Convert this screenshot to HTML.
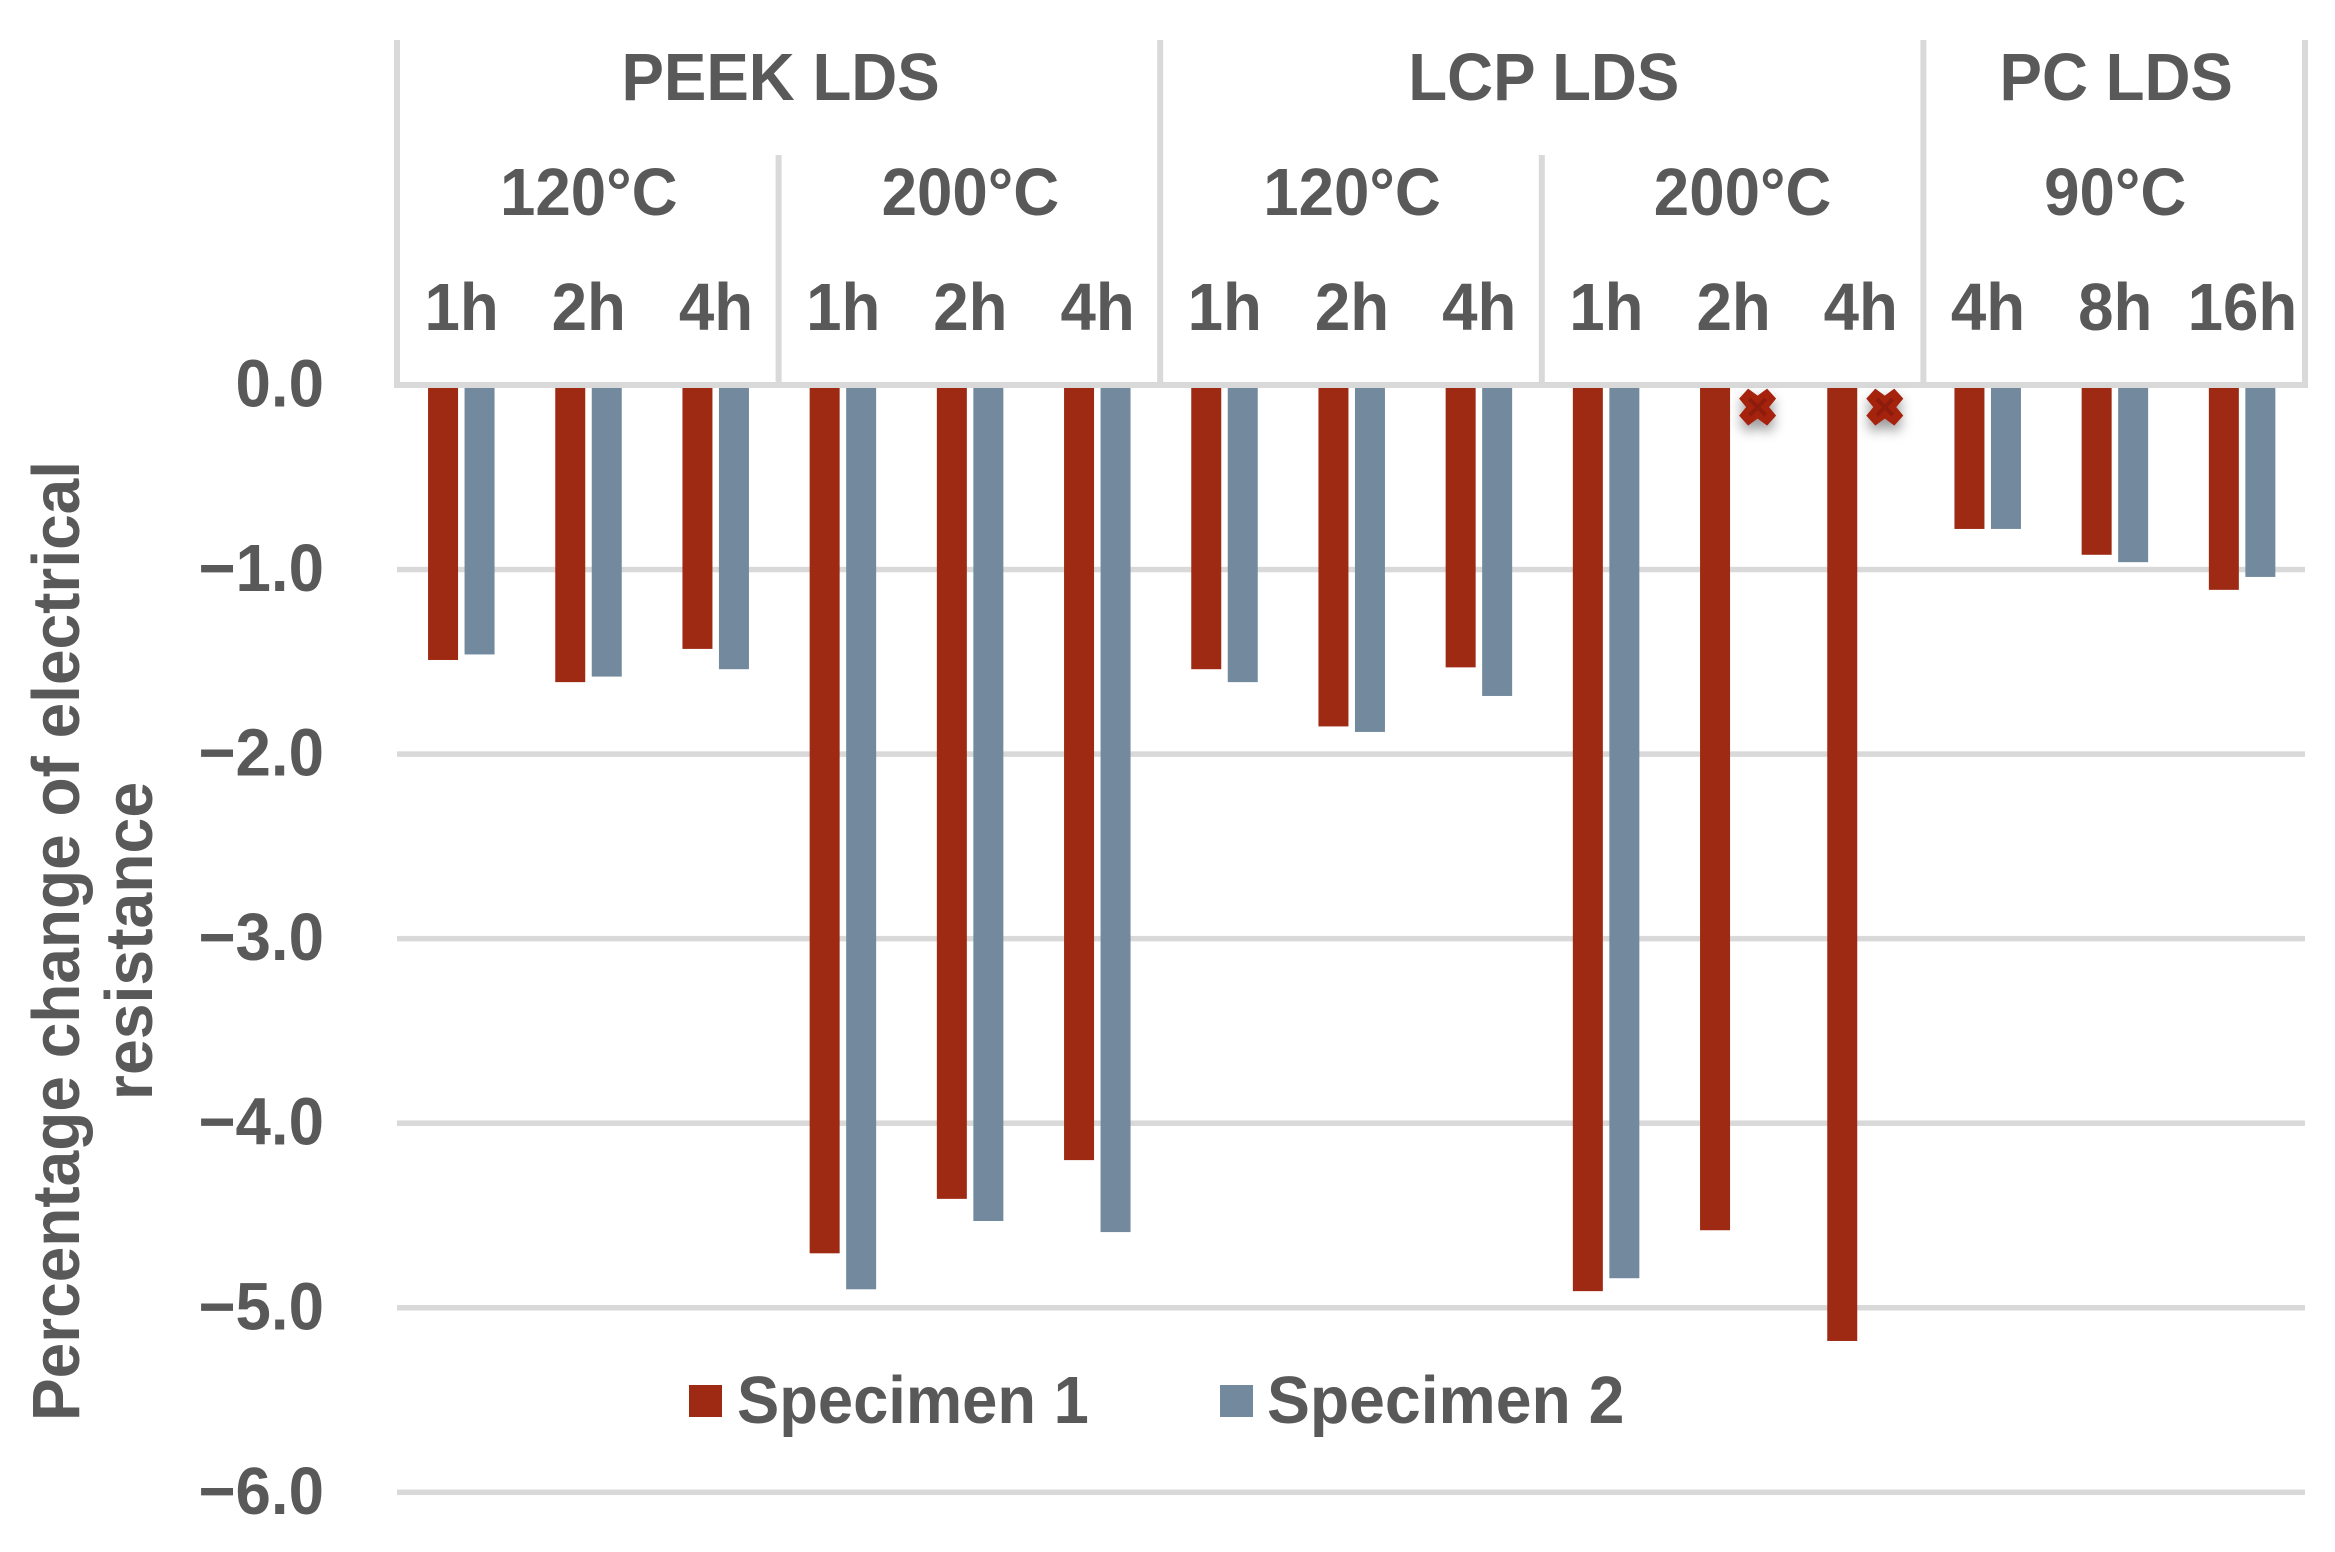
<!DOCTYPE html>
<html lang="en">
<head>
<meta charset="utf-8">
<title>Percentage change of electrical resistance</title>
<style>
html,body{margin:0;padding:0;background:#fff;}
svg{display:block;}
text{font-family:"Liberation Sans",Arial,sans-serif;font-weight:700;fill:#595959;}
</style>
</head>
<body>
<svg id="chart" xmlns="http://www.w3.org/2000/svg" width="2335" height="1552" viewBox="0 0 2335 1552">
  <defs>
    <filter id="marker-shadow" x="-60%" y="-60%" width="220%" height="240%">
      <feDropShadow dx="0" dy="7" stdDeviation="6" flood-color="#000" flood-opacity="0.4"/>
    </filter>
  </defs>
  <rect width="2335" height="1552" fill="#ffffff"/>
  <g id="grid"></g>
  <g id="bars"></g>
  <g id="frame"></g>
  <g id="markers"></g>
  <g id="labels"></g>
  <g>
    <g>
      <rect x="689" y="1385" width="33" height="32" fill="#9E2A14"/>
      <text transform="translate(737 1423) scale(.945 1)" font-size="67">Specimen 1</text>
    </g>
    <g>
      <rect x="1220" y="1385" width="33" height="32" fill="#738A9E"/>
      <text transform="translate(1267 1423) scale(.96 1)" font-size="67">Specimen 2</text>
    </g>
  </g>
  <g>
    <text transform="translate(79 941) rotate(-90) scale(.955 1)" font-size="67" text-anchor="middle">Percentage change of electrical</text>
    <text transform="translate(152 941) rotate(-90) scale(.96 1)" font-size="67" text-anchor="middle">resistance</text>
  </g>
</svg>
<script>
const materials = ["PEEK LDS", "LCP LDS", "PC LDS"];
const materialSpans = [6, 6, 3];
const temperatures = ["120°C", "200°C", "120°C", "200°C", "90°C"];
const temperatureSpans = [3, 3, 3, 3, 3];
const durations = ["1h", "2h", "4h", "1h", "2h", "4h", "1h", "2h", "4h", "1h", "2h", "4h", "4h", "8h", "16h"];
const specimen1 = [-1.49, -1.61, -1.43, -4.705, -4.41, -4.20, -1.54, -1.85, -1.53, -4.91, -4.58, -5.18, -0.78, -0.92, -1.11];
const specimen2 = [-1.46, -1.58, -1.54, -4.90, -4.53, -4.59, -1.61, -1.88, -1.685, -4.84, null, null, -0.78, -0.96, -1.04];
const failureMarkers = [null, null, null, null, null, null, null, null, null, null, -0.12, -0.12, null, null, null];
const yTicks = [0, -1, -2, -3, -4, -5, -6];
const yTickLabels = ["0.0", "−1.0", "−2.0", "−3.0", "−4.0", "−5.0", "−6.0"];

const NS = "http://www.w3.org/2000/svg";
const plotLeft = 397, plotRight = 2305, zeroY = 385, unitY = 184.55;
const bandWidth = (plotRight - plotLeft) / durations.length;
const xBand = i => plotLeft + bandWidth * i;
const yScale = v => zeroY - v * unitY;
const textScale = 0.95;

function make(tag, attrs, parent) {
  const el = document.createElementNS(NS, tag);
  for (const k in attrs) el.setAttribute(k, attrs[k]);
  parent.appendChild(el);
  return el;
}
function label(str, x, y, anchor, parent) {
  const el = make("text", {
    transform: "translate(" + x + " " + y + ") scale(" + textScale + " 1)",
    "font-size": 67,
    "text-anchor": anchor
  }, parent);
  el.textContent = str;
  return el;
}

const grid = document.getElementById("grid");
const barsG = document.getElementById("bars");
const frame = document.getElementById("frame");
const markersG = document.getElementById("markers");
const labelsG = document.getElementById("labels");
const lineColor = "#D9D9D9";

yTicks.forEach((t, i) => {
  if (t !== 0) {
    const g = make("rect", { x: plotLeft, y: yScale(t) - 2.75, width: plotRight - plotLeft, height: 5.5, fill: lineColor }, grid);
    
    
  }
  const tl = label(yTickLabels[i], 324, yScale(t) + 21.5, "end", labelsG);
  
  
});

const barW = 30, barGap = 6.5, barShift = 0.7;
function drawBar(v, x, fill, name) {
  if (v === null) return;
  const r = make("rect", { x: x, y: zeroY, width: barW, height: yScale(v) - zeroY, fill: fill }, barsG);
  
  
}
durations.forEach((d, i) => {
  const c = xBand(i + 0.5);
  drawBar(specimen1[i], c + barShift - barGap / 2 - barW, "#9E2A14", "bar-specimen-1");
  drawBar(specimen2[i], c + barShift + barGap / 2, "#738A9E", "bar-specimen-2");
  const dl = label(d, c + 1, 330, "middle", labelsG);
  
  
  if (failureMarkers[i] !== null) {
    const m = make("g", { transform: "translate(" + (c + 25) + " " + yScale(failureMarkers[i]) + ")", filter: "url(#marker-shadow)" }, markersG);
    
    
    make("path", { d: "M-9.5-18.5L0-11.5 9.5-18.5 18.5-8.5 11.5 0 18.5 8.5 9.5 18.5 0 11.5-9.5 18.5-18.5 8.5-11.5 0-18.5-8.5Z", fill: "#A5230F" }, m);
    make("path", { d: "M-8-8L8 8M8-8L-8 8", stroke: "#8E1A08", "stroke-width": 4, fill: "none" }, m);
  }
});

const axisLine = make("rect", { x: plotLeft - 3, y: zeroY - 3, width: plotRight - plotLeft + 6, height: 6, fill: lineColor }, frame);



function divider(i, top, name) {
  const r = make("rect", { x: xBand(i) - 3, y: top, width: 6, height: zeroY - top, fill: lineColor }, frame);
  
  
}
let pos = 0;
divider(0, 40, "material-divider");
materials.forEach((m, i) => {
  const l = label(m, xBand(pos + materialSpans[i] / 2) + 2, 100, "middle", labelsG);
  
  
  pos += materialSpans[i];
  divider(pos, 40, "material-divider");
});
pos = 0;
temperatures.forEach((t, i) => {
  const nudge = i === 3 ? 10 : 1;
  const l = label(t, xBand(pos + temperatureSpans[i] / 2) + nudge, 215, "middle", labelsG);
  
  
  pos += temperatureSpans[i];
  if (pos % 6 !== 0 && pos < durations.length) divider(pos, 155, "temperature-divider");
});
</script>
</body>
</html>
